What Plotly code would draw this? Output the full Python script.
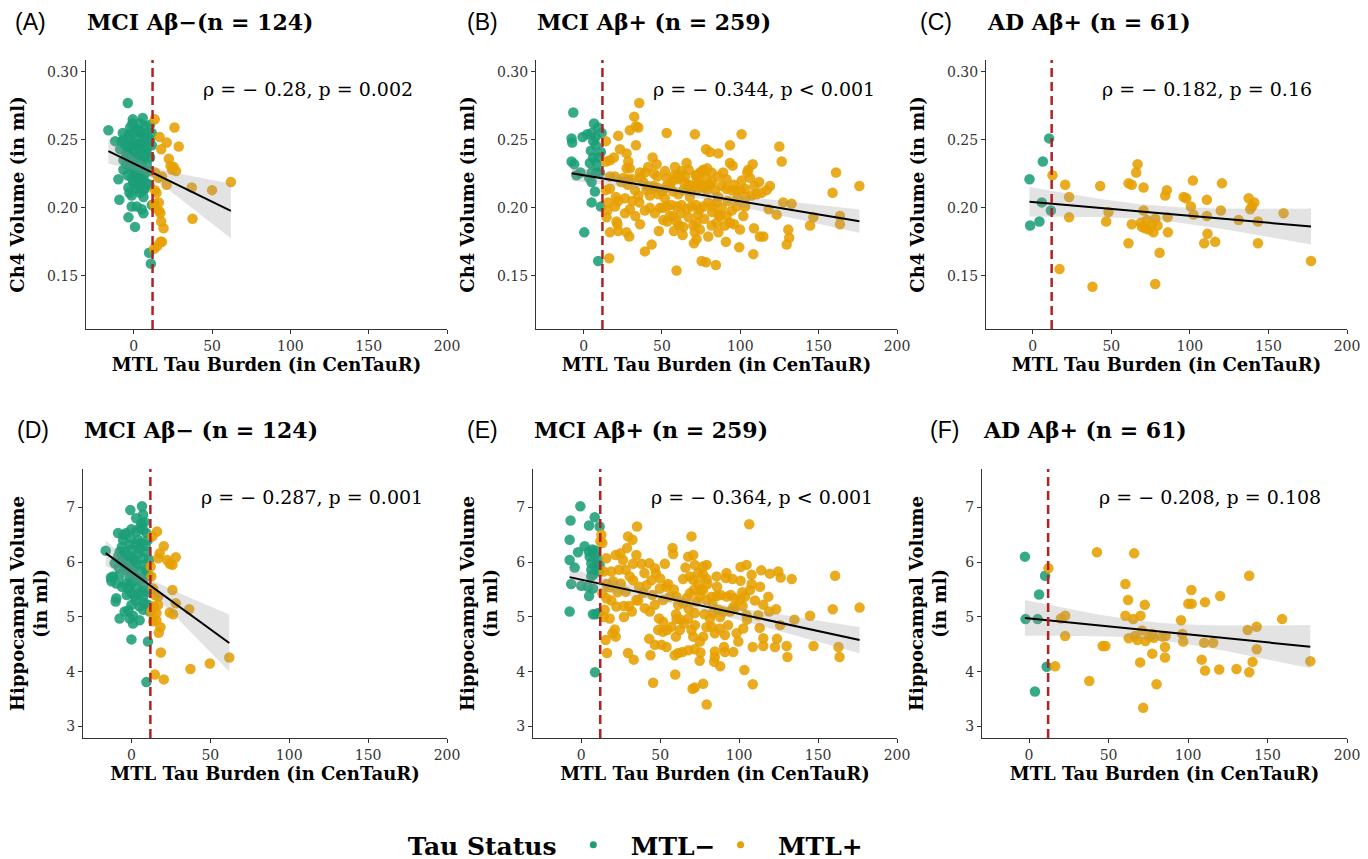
import numpy as np
import plotly.graph_objects as go

# ---------------- data (MTL tau in CenTauR, volume in ml) ----------------
# Panel A: MCI Abeta- , Ch4 volume
a_neg = [(-3.8,0.277),(-16.2,0.257),(-0.6,0.265),(5.7,0.266),(-0.9,0.262),(4.0,0.262),(-2.3,0.259),(1.9,0.258),
         (7.2,0.260),(10.4,0.261),(-0.6,0.255),(4.0,0.255),(8.3,0.255),(11.5,0.255),(-6.6,0.250),(-3.4,0.252),
         (1.9,0.251),(6.2,0.252),(10.4,0.250),(-11.9,0.249),(-7.7,0.249),(-0.2,0.248),(5.1,0.248),(-5.5,0.246),
         (-2.3,0.245),(1.9,0.245),(7.2,0.246),(11.5,0.246),(-8.7,0.243),(-4.5,0.242),(0.8,0.242),(4.0,0.243),
         (8.3,0.243),(-3.4,0.239),(3.0,0.239),(7.2,0.238),(-6.6,0.235),(-1.3,0.235),(4.0,0.235),(10.4,0.237),
         (-4.5,0.232),(0.8,0.233),(8.3,0.232),(-6.6,0.228),(-0.2,0.228),(6.2,0.228),(10.4,0.227),(0.8,0.224),
         (4.0,0.223),(-9.8,0.221),(-1.3,0.222),(1.9,0.221),(6.2,0.221),(-0.2,0.218),(4.0,0.218),(8.3,0.218),
         (10.0,0.217),(-3.4,0.215),(1.9,0.214),(6.2,0.213),(-2.8,0.211),(4.0,0.211),(6.2,0.208),(-9.2,0.206),
         (-1.3,0.209),(-1.3,0.201),(1.9,0.201),(5.1,0.199),(11.5,0.202),(6.2,0.196),(-3.4,0.193),(0.8,0.186),
         (9.8,0.167),(10.9,0.159),(-3,0.254),(3,0.257),(6,0.253),(-1,0.246),(4,0.247),(9,0.249),(-5,0.240),
         (2,0.238),(8,0.240),(-2,0.231),(5,0.232),(2,0.226),(7,0.225),(-4,0.224),(3,0.216),(7,0.214),(0,0.219),
         (-7,0.255)]
a_pos = [(13.4,0.265),(26,0.259),(16.5,0.252),(21,0.248),(28.7,0.245),(17.5,0.243),(22.4,0.236),(23.5,0.231),
         (24.5,0.228),(27,0.227),(13.6,0.226),(18,0.223),(21,0.217),(37,0.215),(50,0.213),(62,0.219),(13.5,0.213),
         (16,0.204),(17,0.196),(17.5,0.190),(19,0.185),(37.5,0.192),(17,0.175),(15,0.172),(18,0.175),(13,0.170),
         (13,0.203),(13.6,0.200),(15.7,0.222),(25.5,0.230),(16,0.198),(14.5,0.211)]

# Panel B: MCI Abeta+ , Ch4 volume
b_neg = [(-6.6,0.270),(-7.7,0.251),(-7.3,0.248),(-0.7,0.252),(2.3,0.254),(5.1,0.255),(6.6,0.262),(9.3,0.259),
         (6.1,0.249),(7.8,0.246),(11.5,0.255),(11.0,0.241),(9.3,0.237),(6.1,0.237),(4.0,0.233),(-7.7,0.234),
         (-6.0,0.232),(-2.0,0.226),(5.1,0.226),(8.3,0.226),(10.4,0.226),(5.1,0.219),(7.2,0.212),(5.1,0.204),
         (11.0,0.201),(0.4,0.182),(9.3,0.161),(3.6,0.222),(-4.5,0.224),(8.3,0.232),(4.6,0.242),(7.6,0.252)]
b_pos = [(35.5,0.277),(32.3,0.267),(33.4,0.260),(29.5,0.257),(34.9,0.259),(22.1,0.253),(53.0,0.255),(71.0,0.254),
         (100.8,0.254),(14.2,0.249),(33.4,0.246),(27.4,0.240),(23.2,0.243),(78.1,0.243),(80.6,0.241),(85.9,0.240),
         (93.4,0.246),(124.9,0.245),(126.4,0.234),(14.2,0.234),(16.8,0.235),(19.3,0.237),(28.5,0.234),(27.4,0.229),
         (29.5,0.229),(39.1,0.226),(35.9,0.226),(41.2,0.230),(44.0,0.237),(58.3,0.230),(62.5,0.227),(65.7,0.233),
         (60.4,0.224),(64.7,0.223),(72.1,0.224),(74.2,0.226),(76.4,0.228),(78.9,0.229),(81.7,0.226),(85.9,0.223),
         (91.2,0.221),(93.4,0.233),(95.1,0.231),(100.8,0.220),(104.4,0.226),(106.2,0.222),(107.9,0.232),(105.1,0.228),
         (16.8,0.223),(19.9,0.223),(25.3,0.222),(28.5,0.221),(47.0,0.223),(53.0,0.222),(58.9,0.221),
         (14.2,0.213),(16.8,0.214),(15.7,0.204),(15.1,0.198),(14.6,0.193),(20.6,0.208),(22.1,0.205),(20.0,0.201),
         (26.4,0.207),(32.7,0.213),(34.9,0.209),(35.5,0.204),(40.2,0.213),(42.3,0.209),(44.4,0.216),(47.6,0.210),
         (50.8,0.213),(51.9,0.207),(55.1,0.216),(57.2,0.212),(60.4,0.210),(63.6,0.213),(66.8,0.216),(68.9,0.213),
         (67.8,0.208),(72.1,0.213),(74.2,0.217),(76.4,0.215),(78.5,0.213),(80.6,0.217),(83.8,0.213),(85.9,0.208),
         (88.1,0.216),(91.2,0.214),(94.5,0.213),(97.6,0.213),(100.2,0.213),(103.6,0.208),(107.2,0.209),(110.4,0.210),
         (113.6,0.211),(116.8,0.213),(118.9,0.216),(127.4,0.204),(132.7,0.203),(146.6,0.193),(144.5,0.187),
         (158.9,0.211),(161.1,0.226),(176.0,0.216),(163.6,0.194),(163.6,0.188),(118.1,0.199),(123.2,0.195),
         (114.7,0.179),(112.5,0.179),(108.7,0.185),(101.9,0.194),(97.6,0.201),(94.5,0.198),(91.2,0.194),(88.1,0.200),
         (84.9,0.204),(82.3,0.201),(79.5,0.204),(76.4,0.201),(74.2,0.199),(71.7,0.202),(68.9,0.201),(65.7,0.199),
         (62.5,0.202),(59.3,0.201),(56.1,0.202),(53.0,0.201),(50.8,0.200),(48.7,0.200),(45.5,0.196),(42.3,0.200),
         (39.1,0.198),(29.5,0.199),(26.4,0.196),(21.0,0.190),(16.8,0.182),(21.5,0.188),(22.1,0.183),(27.4,0.182),
         (29.1,0.179),(39.1,0.168),(43.4,0.173),(50.8,0.191),(53.4,0.190),(57.2,0.194),(59.3,0.190),(61.0,0.187),
         (63.6,0.186),(57.6,0.183),(63.2,0.180),(70.0,0.187),(72.1,0.189),(74.2,0.184),(71.0,0.182),(70.4,0.174),
         (72.1,0.177),(79.5,0.179),(81.7,0.187),(84.9,0.189),(87.0,0.194),(90.2,0.187),(93.4,0.189),(96.0,0.188),
         (99.8,0.184),(90.8,0.175),(99.3,0.171),(108.3,0.166),(75.3,0.161),(78.1,0.160),(84.4,0.158),(59.3,0.154),
         (16.3,0.163),(130.6,0.184),(131.2,0.178),(129.6,0.173),(46.6,0.232),(51.9,0.227),
         (71.5,0.224),(74,0.225),(76,0.227),(78,0.222),(72,0.219),(75.5,0.217),(79,0.216),(82,0.219),(70,0.216),
         (67,0.217),(64,0.219),(61,0.222),(58,0.224),(56,0.219),(53,0.216),(50,0.212),(47,0.215),(44,0.214),
         (41,0.216),(38,0.219),(36,0.222),(31,0.221),(28,0.217),(24,0.219),(55,0.194),(62,0.196),(67,0.193),
         (73,0.195),(77,0.192),(82,0.197),(86,0.195),(92,0.205),(98,0.207),(103,0.214),(109,0.216),(112,0.219),
         (96,0.217),(89,0.226),(67,0.228),(45,0.225),(33,0.194),(36,0.188),(48,0.183),(31,0.205),(86,0.182),
         (103,0.201)]

# Panel C: AD Abeta+ , Ch4 volume
c_neg = [(-2.1,0.221),(6.4,0.234),(10.4,0.251),(5.7,0.204),(-1.7,0.187),(4.2,0.190),(11.5,0.198)]
c_pos = [(12.5,0.224),(20.6,0.217),(23.1,0.208),(23.1,0.193),(17.0,0.155),(38.0,0.142),(42.9,0.216),(48.2,0.197),
         (46.7,0.190),(60.9,0.218),(63.0,0.217),(66.7,0.232),(65.8,0.226),(70.5,0.215),(70.5,0.198),(63.0,0.188),
         (68.8,0.189),(72.6,0.191),(71.5,0.185),(73.7,0.184),(75.8,0.188),(77.9,0.192),(76.8,0.182),(60.9,0.174),
         (80.7,0.167),(77.9,0.144),(84.3,0.209),(85.3,0.213),(85.8,0.193),(86.0,0.182),(96.0,0.208),(97.7,0.207),
         (101.9,0.220),(100.6,0.201),(102.3,0.195),(110.8,0.206),(110.8,0.194),(111.2,0.181),(109.1,0.174),
         (116.1,0.175),(120.4,0.218),(119.7,0.198),(131.0,0.191),(137.4,0.207),(138.4,0.199),(139.5,0.201),
         (141.0,0.204),(143.3,0.190),(143.3,0.174),(159.6,0.196),(177.1,0.161),(69.4,0.186),(79.4,0.187)]

# Panel D: MCI Abeta- , hippocampal volume
d_neg = [(6.7,7.02),(-0.7,6.95),(7.4,6.87),(6.3,6.71),(8.4,6.73),(5.2,6.62),(-8.5,6.53),(-3.2,6.53),(0.0,6.60),
         (3.1,6.56),(7.4,6.59),(9.5,6.53),(-5.3,6.41),(-0.7,6.44),(4.2,6.41),(10.5,6.41),(-1.1,6.32),(3.1,6.32),
         (6.3,6.35),(-7.5,6.19),(-4.3,6.19),(0.0,6.23),(4.2,6.16),(8.4,6.19),(-8.5,6.10),(-5.3,6.07),(1.0,6.07),
         (7.4,6.07),(11.2,6.04),(-10.6,5.98),(-6.4,6.01),(-2.2,5.98),(3.1,5.95),(7.4,5.95),(-3.2,5.86),(1.0,5.86),
         (5.2,5.83),(9.5,5.86),(-11.7,5.74),(-7.5,5.77),(-1.1,5.74),(4.2,5.71),(9.5,5.77),(-12.7,5.65),(-9.6,5.61),
         (-4.3,5.61),(1.0,5.65),(7.4,5.61),(-2.2,5.52),(3.1,5.52),(8.4,5.49),(0.0,5.43),(5.2,5.43),(10.5,5.46),
         (-9.6,5.34),(2.1,5.37),(7.4,5.37),(0.0,5.22),(5.2,5.19),(10.5,5.22),(-4.3,5.10),(7.4,5.13),(11.6,5.10),
         (-7.5,4.97),(-1.1,4.97),(1.0,4.88),(5.2,4.94),(0.0,4.59),(10.5,4.55),(9.5,3.81),(-16.3,6.21),
         (-6,6.28),(-2,6.12),(2,6.02),(5,6.25),(-8,5.90),(-4,5.92),(0,5.80),(6,5.68),(-6,5.55),(-1,5.58),(3,5.30),
         (8,5.25),(-3,5.40),(1,5.02),(-10,5.28),(9,6.30),(-5,6.50),(3,6.80),(-13,5.72),(11,5.75),(-2,5.12)]
d_pos = [(16.2,6.56),(13.3,6.47),(20.5,6.29),(17.9,6.16),(16.9,6.07),(22.6,6.04),(28.1,6.09),(24.3,5.97),
         (26.0,5.95),(12.2,5.92),(12.6,5.74),(13.7,5.52),(14.8,5.40),(16.9,5.37),(26.0,5.49),(28.1,5.25),(24.3,5.08),
         (26.4,5.05),(36.6,5.14),(14.1,5.19),(16.9,5.22),(12.6,5.10),(15.8,5.07),(13.7,4.92),(15.8,4.94),(18.4,4.81),
         (17.3,4.71),(18.6,4.35),(37.4,4.05),(49.7,4.15),(62.0,4.26),(14.8,3.95),(20.5,3.86)]

# Panel E: MCI Abeta+ , hippocampal volume
e_neg = [(-0.6,7.02),(-6.8,6.76),(8.5,6.82),(4.9,6.67),(11.6,6.65),(-7.4,6.41),(2.1,6.29),(-2.1,6.18),(-7.4,6.04),
         (-4.2,5.90),(4.9,6.19),(7.0,6.23),(9.1,6.21),(5.3,6.10),(8.5,6.13),(10.6,6.04),(6.3,5.98),(9.1,5.95),
         (11.6,5.95),(6.3,5.86),(9.5,5.89),(11.6,5.83),(7.4,5.77),(6.3,5.74),(-6.4,5.60),(0.0,5.57),(4.2,5.55),
         (7.4,5.52),(4.9,5.38),(-7.4,5.10),(7.4,5.05),(9.1,5.05),(10.6,5.07),(8.7,3.99)]
e_pos = [(106.4,6.69),(35.3,6.65),(12.7,6.50),(12.1,6.38),(13.3,6.35),(29.6,6.47),(32.4,6.41),(69.8,6.47),
         (29.0,6.26),(24.8,6.16),(21.8,6.13),(15.9,6.07),(26.4,6.04),(32.8,5.97),(38.1,5.97),(43.0,5.98),(52.9,5.97),
         (57.8,6.26),(58.2,6.15),(67.7,6.10),(70.9,6.13),(34.9,6.13),(14.2,5.83),(19.0,5.83),(23.9,5.86),(28.1,5.86),
         (46.6,5.89),(47.2,5.80),(71.9,5.95),(77.2,5.92),(79.4,5.95),(100.9,5.91),(104.7,5.95),(77.2,5.77),
         (85.7,5.74),(91.6,5.71),(95.9,5.69),(100.9,5.66),(107.9,5.77),(119.5,5.79),(124.8,5.83),(126.3,5.72),
         (133.3,5.69),(160.8,5.75),(176.3,5.17),(159.3,5.14),(144.9,5.02),(147.1,4.47),(162.9,4.45),(163.6,4.27),
         (130.1,4.47),(130.6,4.27),(122.7,4.45),(115.3,4.61),(115.3,4.47),(108.6,4.45),(108.6,3.77),(103.3,4.03),
         (96.3,4.36),(91.0,4.36),(90.4,4.45),(84.6,4.37),(84.6,4.27),(84.2,4.18),(77.2,3.78),(71.9,3.71),(70.5,3.69),
         (79.4,3.40),(45.5,3.80),(59.5,3.95),(33.2,4.22),(29.6,4.34),(16.3,4.34),(15.4,4.58),(18.0,4.97),(19.7,4.70),
         (21.8,4.64),(21.2,4.77),(14.8,5.13),(22.2,5.19),(26.9,5.20),(30.3,5.20),(34.9,5.31),(39.1,5.44),(40.2,5.16),
         (43.4,5.10),(46.6,5.22),(49.3,4.97),(51.8,4.91),(54.0,5.55),(56.1,5.37),(58.6,5.50),(60.3,5.37),(61.4,5.22),
         (64.5,5.25),(66.7,5.34),(68.8,5.43),(71.3,5.49),(73.0,5.28),(75.1,5.38),(77.2,5.49),(79.3,5.31),(82.5,5.37),
         (85.7,5.38),(88.2,5.40),(92.0,5.37),(94.6,5.40),(97.3,5.34),(100.5,5.31),(103.7,5.37),(106.9,5.49),
         (107.9,5.60),(113.2,5.55),(115.3,5.22),(118.5,5.37),(123.4,5.14),(112.1,5.03),(94.2,5.10),(89.9,5.10),
         (86.8,5.13),(83.2,5.07),(81.5,4.97),(82.5,4.82),(79.3,4.81),(84.6,4.70),(87.8,4.79),(77.2,4.64),(75.1,4.55),
         (70.9,4.64),(69.8,4.76),(71.9,5.07),(67.7,4.97),(65.2,4.88),(62.4,4.76),(60.3,4.96),(59.9,4.64),(57.1,4.82),
         (54.4,4.76),(51.8,4.73),(48.7,4.76),(46.6,4.49),(50.8,4.49),(43.8,4.30),(59.2,4.30),(61.4,4.34),(64.1,4.36),
         (67.7,4.39),(71.9,4.41),(75.5,4.35),(91.0,4.67),(98.4,4.70),(99.5,4.55),(102.6,4.79),(104.7,5.03),
         (36.6,5.55),(32.8,5.67),(28.1,5.46),(25.0,5.61),(20.1,5.65),(18.0,5.54),(41.3,5.58),(44.4,5.67),(49.7,5.52),
         (51.8,5.31),(15.9,5.34),(13.3,5.43),(14.2,5.00),(30.7,5.74),(64.5,5.69),(68.8,5.74),(70.9,5.68),(74.1,5.61),
         (75.5,5.50),(79.4,5.69),(102.2,5.20),(96.3,5.18),
         (55,5.60),(60,5.05),(63,4.95),(68,5.15),(72,4.85),(78,5.05),(83,5.25),(88,5.00),(93,4.85),(97,5.15),
         (102,5.45),(110,5.30),(114,5.85),(119,5.10),(126,4.85),(135,4.95),(92,5.80),(86,5.55),(80,5.60),(74,5.80),
         (66,5.90),(50,5.70),(45,5.40),(40,5.80),(36,5.30),(32,5.10),(27,5.00),(23,5.45),(19,5.30),(16,5.60),
         (43,4.60),(54,4.45),(75,4.20),(88,4.10),(105,4.95),(113,4.80),(124,4.60)]

# Panel F: AD Abeta+ , hippocampal volume
f_neg = [(-2.6,6.10),(10.1,5.75),(6.3,5.41),(-2.2,4.96),(5.4,4.96),(11.1,4.09),(3.7,3.64)]
f_pos = [(12.2,5.89),(42.7,6.18),(66.1,6.16),(60.6,5.60),(62.3,5.31),(72.8,5.22),(60.6,5.02),(70.1,5.02),(65.5,4.96),
         (22.7,5.02),(20.0,4.97),(22.7,4.65),(62.7,4.61),(68.2,4.58),(71.1,4.75),(73.2,4.56),(75.8,4.64),(77.5,4.69),
         (83.8,4.64),(85.9,4.65),(85.5,4.45),(85.5,4.26),(77.5,4.33),(46.3,4.47),(48.0,4.47),(69.9,4.17),(80.2,3.77),
         (71.8,3.34),(37.9,3.83),(16.4,4.10),(95.6,4.94),(96.4,4.69),(97.0,4.55),(100.2,5.24),(102.3,5.24),
         (102.1,5.49),(110.7,5.27),(120.2,5.38),(110.1,4.53),(115.8,4.53),(108.6,4.22),(110.7,4.02),(119.6,4.04),
         (130.5,4.05),(138.5,5.75),(137.5,4.76),(143.2,4.82),(143.2,4.41),(140.6,4.18),(138.5,3.99),(159.2,4.96),
         (176.9,4.19),(78.5,4.62),(66.5,4.65)]

panel_letters = ["(A)", "(B)", "(C)", "(D)", "(E)", "(F)"]
panel_titles = ["MCI Aβ−(n = 124)", "MCI Aβ+ (n = 259)", "AD Aβ+ (n = 61)",
                "MCI Aβ− (n = 124)", "MCI Aβ+ (n = 259)", "AD Aβ+ (n = 61)"]
stat_labels = ["ρ = − 0.28, p = 0.002", "ρ = − 0.344, p < 0.001", "ρ = − 0.182, p = 0.16",
               "ρ = − 0.287, p = 0.001", "ρ = − 0.364, p < 0.001", "ρ = − 0.208, p = 0.108"]
x_ticks = [0, 50, 100, 150, 200]
ch4_ticks = [0.15, 0.20, 0.25, 0.30]
hippo_ticks = [3, 4, 5, 6, 7]
tau_threshold = 12
legend_names = ["MTL−", "MTL+"]

GREEN = "#1B9E77"
ORANGE = "#E69F00"
SERIF = "DejaVu Serif"

groups = [(a_neg, a_pos), (b_neg, b_pos), (c_neg, c_pos), (d_neg, d_pos), (e_neg, e_pos), (f_neg, f_pos)]

W, H = 1368, 859
# pixel geometry of the panels: (left, right, top, bottom)
boxes = [(86, 447, 60, 329), (536, 897, 60, 329), (986, 1347, 60, 329),
         (83, 447, 469, 738), (533, 897, 469, 738), (982, 1347, 469, 738)]
x_ranges = [[-30.5, 200], [-30.4, 200], [-29.8, 200], [-30.7, 200], [-30.6, 200], [-29.6, 200]]
letter_x = [13, 465, 918, 15, 465, 928]


def t_quant(df, z=1.959964):
    return z + (z**3 + z) / (4 * df) + (5 * z**5 + 16 * z**3 + 3 * z) / (96 * df**2)


def fit_band(x, y, n_grid=80):
    x = np.asarray(x, float)
    y = np.asarray(y, float)
    n = len(x)
    b1, b0 = np.polyfit(x, y, 1)
    g = np.linspace(x.min(), x.max(), n_grid)
    yhat = b0 + b1 * g
    s = np.sqrt(np.sum((y - (b0 + b1 * x)) ** 2) / (n - 2))
    sxx = np.sum((x - x.mean()) ** 2)
    se = s * np.sqrt(1 / n + (g - x.mean()) ** 2 / sxx)
    t = t_quant(n - 2)
    return g, yhat, yhat - t * se, yhat + t * se


fig = go.Figure()
layout = dict()
annotations = []
shapes = []

for i, (neg, pos) in enumerate(groups):
    k = i + 1
    xa = "x" if k == 1 else f"x{k}"
    ya = "y" if k == 1 else f"y{k}"
    nx, ny = zip(*neg)
    px_, py_ = zip(*pos)
    fig.add_trace(go.Scatter(x=nx, y=ny, mode="markers", xaxis=xa, yaxis=ya, showlegend=False,
                             marker=dict(color=GREEN, size=10.5, opacity=0.88, line=dict(width=0))))
    fig.add_trace(go.Scatter(x=px_, y=py_, mode="markers", xaxis=xa, yaxis=ya, showlegend=False,
                             marker=dict(color=ORANGE, size=10.5, opacity=0.88, line=dict(width=0))))
    allx = list(nx) + list(px_)
    ally = list(ny) + list(py_)
    g, yhat, lo, hi = fit_band(allx, ally)
    fig.add_trace(go.Scatter(x=np.concatenate([g, g[::-1]]), y=np.concatenate([hi, lo[::-1]]),
                             fill="toself", fillcolor="rgba(153,153,153,0.28)", line=dict(width=0),
                             mode="lines", xaxis=xa, yaxis=ya, showlegend=False, hoverinfo="skip"))
    fig.add_trace(go.Scatter(x=g, y=yhat, mode="lines", line=dict(color="black", width=2),
                             xaxis=xa, yaxis=ya, showlegend=False))

    l, r, t, b = boxes[i]
    row1 = i < 3
    axis_common = dict(showline=True, linecolor="#333333", linewidth=1.1, ticks="outside", ticklen=4,
                       tickcolor="#333333", tickwidth=1.1, showgrid=False, zeroline=False,
                       tickfont=dict(family=SERIF, size=14, color="#333333"))
    layout["xaxis" if k == 1 else f"xaxis{k}"] = dict(
        domain=[l / W, r / W], anchor=ya, range=x_ranges[i], tickvals=x_ticks,
        title=dict(text="MTL Tau Burden (in CenTauR)", standoff=5,
                   font=dict(family=SERIF, size=18, color="black", weight="bold")),
        **axis_common)
    if row1:
        yrng, yt, ytitle, fmt, so = [0.111, 0.3086], ch4_ticks, "Ch4 Volume (in ml)", ".2f", 17
    else:
        yrng, yt, ytitle, fmt, so = [2.79, 7.70], hippo_ticks, "Hippocampal Volume<br>(in ml)", "d", 13
    layout["yaxis" if k == 1 else f"yaxis{k}"] = dict(
        domain=[1 - b / H, 1 - t / H], anchor=xa, range=yrng, tickvals=yt, tickformat=fmt,
        title=dict(text=ytitle, standoff=so,
                   font=dict(family=SERIF, size=18, color="black", weight="bold")),
        **axis_common)

    shapes.append(dict(type="line", xref=xa, yref=f"{ya} domain", x0=tau_threshold, x1=tau_threshold,
                       y0=0, y1=1, line=dict(color="#B22222", width=2.5, dash="9px,5px")))

    ty = 1 - (22 if row1 else 430) / H
    annotations.append(dict(text=panel_letters[i], xref="paper", yref="paper", x=letter_x[i] / W, y=ty,
                            xanchor="left", yanchor="middle", showarrow=False,
                            font=dict(family="Liberation Sans", size=23, color="black")))
    annotations.append(dict(text=f"<b>{panel_titles[i]}</b>", xref="paper", yref="paper", x=(l - 1) / W, y=ty,
                            xanchor="left", yanchor="middle", showarrow=False,
                            font=dict(family=SERIF, size=22, color="black")))
    annotations.append(dict(text=stat_labels[i], xref=xa, yref=ya, x=43.0, y=0.287 if row1 else 7.18,
                            xanchor="left", yanchor="middle", showarrow=False,
                            font=dict(family=SERIF, size=19, color="black")))

# legend entries
PAD = "\u00a0\u00a0"
fig.add_trace(go.Scatter(x=[None], y=[None], mode="markers", name=PAD + legend_names[0],
                         marker=dict(color=GREEN, size=7)))
fig.add_trace(go.Scatter(x=[None], y=[None], mode="markers", name=PAD + legend_names[1],
                         marker=dict(color=ORANGE, size=7)))

fig.update_layout(
    autosize=True, margin=dict(l=0, r=0, t=0, b=0, autoexpand=False),
    paper_bgcolor="white", plot_bgcolor="white",
    annotations=annotations, shapes=shapes,
    legend=dict(orientation="h", x=0.4658, xanchor="center", y=1 - 845 / H, yanchor="middle",
                title=dict(text="Tau Status\u00a0", font=dict(family=SERIF, size=25, color="black", weight="bold")),
                font=dict(family=SERIF, size=25, color="black", weight="bold"),
                itemsizing="trace", bgcolor="rgba(0,0,0,0)"),
    **layout,
)

post = ("document.documentElement.style.margin='0';document.documentElement.style.overflow='hidden';"
        "document.body.style.margin='0';document.body.style.overflow='hidden';"
        "window.dispatchEvent(new Event('resize'));")

fig.write_html("out.html", config={"displayModeBar": False, "responsive": True},
               default_width="100vw", default_height="100vh", post_script=post)
